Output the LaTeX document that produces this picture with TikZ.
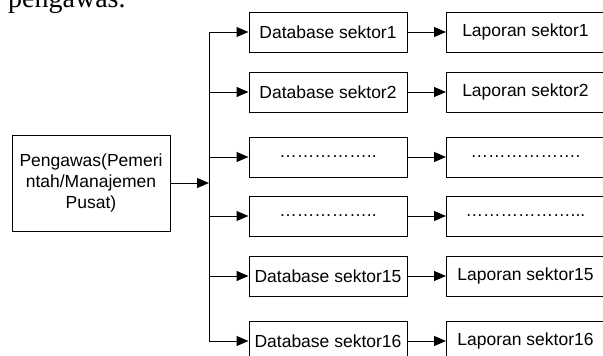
\documentclass[tikz,border=0pt]{standalone}
\usepackage{fontspec}
\setmainfont{Liberation Sans}
\newfontfamily\docfont{Liberation Serif}
\usepackage{tikz}
\usetikzlibrary{calc,arrows.meta}

\tikzset{
  kotak/.style={draw=black, line width=1pt, minimum width=158pt, minimum height=40pt,
    inner sep=0pt, font=\fontsize{17.5}{21}\selectfont},
  panah/.style={line width=1pt, -{Triangle[length=12pt, width=10pt]}}
}

\begin{document}
\begin{tikzpicture}[x=1pt, y=-1pt]
    \useasboundingbox (0,0) rectangle (603,356);
    \clip (0,0) rectangle (603,356);

    % sisa teks dokumen di atas gambar
    \node[anchor=base west, inner sep=0pt, font=\docfont\fontsize{28}{32}\selectfont] (teks) at (8,7) {pengawas.};

    \node[kotak, minimum height=96pt, align=center, text width=150pt] (pusat) at (91,183)
      {Pengawas(Pemeri\\ntah/Manajemen\\Pusat)};

    \node[kotak] (d1) at (328,32) {Database sektor1};
    \node[kotak] (d2) at (328,92) {Database sektor2};
    \node[kotak] (d3) at (328,157) {\dots\dots\dots\dots\dots..};
    \node[kotak] (d4) at (328,216) {\dots\dots\dots\dots\dots..};
    \node[kotak] (d15) at (328,276) {Database sektor15};
    \node[kotak] (d16) at (328,341) {Database sektor16};

    \node[kotak] (l1) at (525.5,32) {Laporan sektor1};
    \node[kotak] (l2) at (525.5,92) {Laporan sektor2};
    \node[kotak] (l3) at (525.5,157) {\dots\dots\dots\dots\dots\dots.};
    \node[kotak] (l4) at (525.5,216) {\dots\dots\dots\dots\dots\dots...};
    \node[kotak] (l15) at (525.5,276) {Laporan sektor15};
    \node[kotak] (l16) at (525.5,341) {Laporan sektor16};

    \coordinate (bus) at (209,0);
    \draw[line width=1pt] (bus |- d1) -- (bus |- d16);
    \draw[panah] (pusat) -- (bus |- pusat);

    \draw[panah] (bus |- d1) -- (d1);
    \draw[panah] (bus |- d2) -- (d2);
    \draw[panah] (bus |- d3) -- (d3);
    \draw[panah] (bus |- d4) -- (d4);
    \draw[panah] (bus |- d15) -- (d15);
    \draw[panah] (bus |- d16) -- (d16);

    \draw[panah] (d1) -- (l1);
    \draw[panah] (d2) -- (l2);
    \draw[panah] (d3) -- (l3);
    \draw[panah] (d4) -- (l4);
    \draw[panah] (d15) -- (l15);
    \draw[panah] (d16) -- (l16);
\end{tikzpicture}
\end{document}
